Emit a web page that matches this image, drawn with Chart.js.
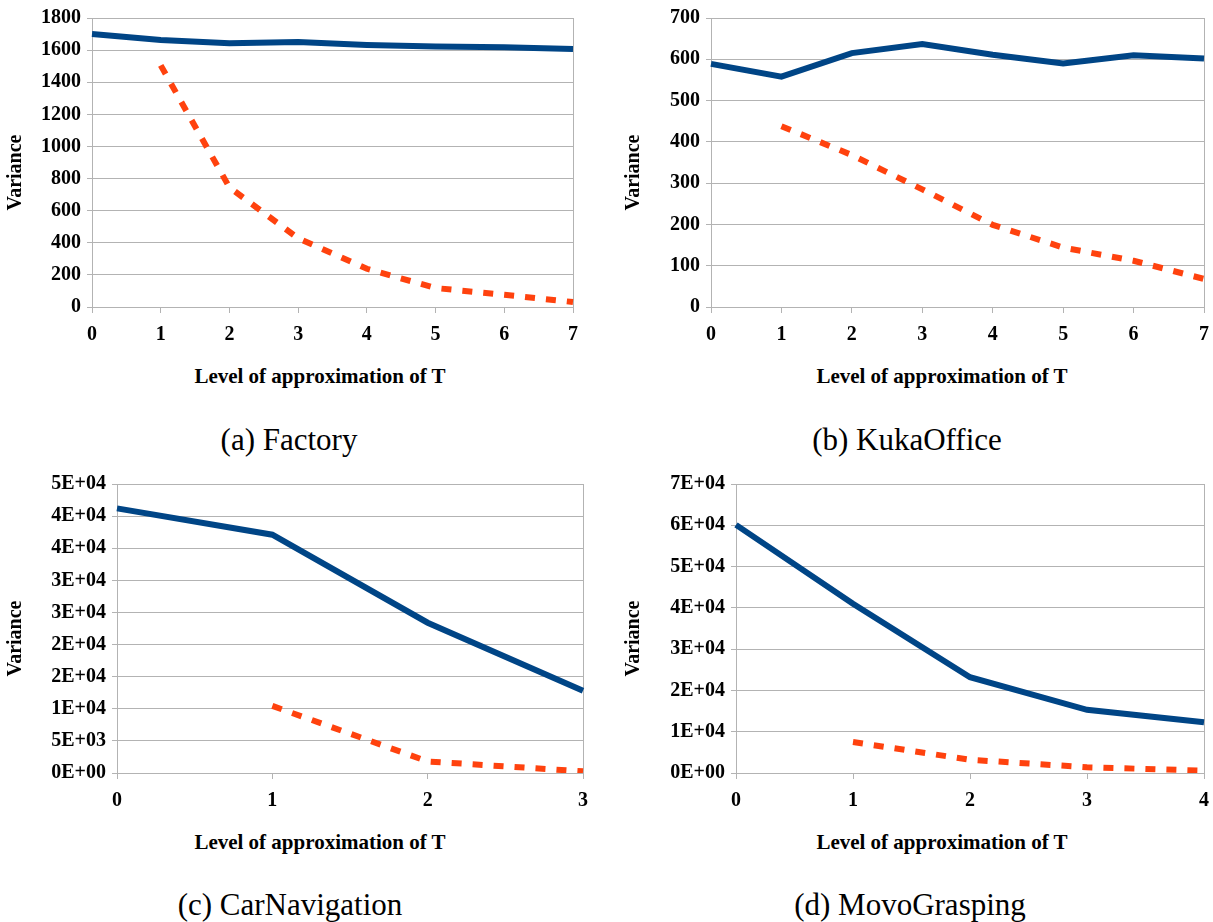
<!DOCTYPE html>
<html>
<head>
<meta charset="utf-8">
<script src="https://cdn.jsdelivr.net/npm/chart.js@4/dist/chart.umd.min.js"></script>
<style>
  body { margin: 0; background: #fff; }
  #page { position: relative; width: 1213px; height: 922px; overflow: hidden; }
  canvas { position: absolute; }
  .lbl {
    position: absolute;
    transform: translate(-50%, -50%);
    white-space: nowrap;
    font-family: 'Liberation Serif', 'Times New Roman', serif;
    color: #000;
  }
  .xtitle { font-weight: bold; font-size: 21px; }
  .caption { font-size: 31px; }
</style>
</head>
<body>
<div id="page">
  <canvas id="chartA" width="618" height="360" style="left:0;top:0"></canvas>
  <canvas id="chartB" width="595" height="360" style="left:618px;top:0"></canvas>
  <canvas id="chartC" width="618" height="360" style="left:0;top:466px"></canvas>
  <canvas id="chartD" width="595" height="360" style="left:618px;top:466px"></canvas>

  <div class="lbl xtitle" style="left:320px;top:376px">Level of approximation of T</div>
  <div class="lbl xtitle" style="left:942px;top:376px">Level of approximation of T</div>
  <div class="lbl xtitle" style="left:320px;top:842px">Level of approximation of T</div>
  <div class="lbl xtitle" style="left:942px;top:842px">Level of approximation of T</div>

  <div class="lbl caption" style="left:289px;top:440px">(a) Factory</div>
  <div class="lbl caption" style="left:907px;top:440px">(b) KukaOffice</div>
  <div class="lbl caption" style="left:290px;top:905px">(c) CarNavigation</div>
  <div class="lbl caption" style="left:910px;top:905px">(d) MovoGrasping</div>
</div>

<script>
// 近似レベル（x 軸）
const levels8 = ['0', '1', '2', '3', '4', '5', '6', '7'];
const levels4 = ['0', '1', '2', '3'];
const levels5 = ['0', '1', '2', '3', '4'];

// (a) Factory
const factorySolid = [1700, 1663, 1642, 1651, 1632, 1622, 1618, 1607];
const factoryDashed = [null, 1505, 745, 428, 238, 118, 76, 31];
const factoryTicks = ['0', '200', '400', '600', '800', '1000', '1200', '1400', '1600', '1800'];

// (b) KukaOffice
const kukaSolid = [589, 558, 615, 637, 611, 590, 610, 602];
const kukaDashed = [null, 438, 368, 285, 199, 144, 112, 68];
const kukaTicks = ['0', '100', '200', '300', '400', '500', '600', '700'];

// (c) CarNavigation
const carSolid = [41200, 37100, 23400, 12800];
const carDashed = [null, 10450, 1800, 260];
const carTicks = ['0E+00', '5E+03', '1E+04', '2E+04', '2E+04', '3E+04', '3E+04', '4E+04', '4E+04', '5E+04'];

// (d) MovoGrasping
const movoSolid = [60100, 41000, 23200, 15300, 12300];
const movoDashed = [null, 7500, 3200, 1400, 560];
const movoTicks = ['0E+00', '1E+04', '2E+04', '3E+04', '4E+04', '5E+04', '6E+04', '7E+04'];

const BLUE = '#004586';
const RED = '#ff420e';
const GRID = '#b3b3b3';
const tickFont = { family: "'Liberation Serif', 'Times New Roman', serif", size: 20, weight: 'bold' };

function makeChart(id, cfg) {
  const n = cfg.labels.length;
  return new Chart(document.getElementById(id), {
    type: 'line',
    data: {
      labels: cfg.labels,
      datasets: [
        {
          data: cfg.solid,
          borderColor: BLUE,
          borderWidth: 6,
          pointRadius: 0,
          tension: 0
        },
        {
          data: cfg.dashed,
          borderColor: RED,
          borderWidth: 6,
          borderDash: [10, 11],
          pointRadius: 0,
          tension: 0
        }
      ]
    },
    options: {
      responsive: false,
      animation: false,
      layout: { padding: { top: 17, right: cfg.right, left: 0, bottom: 0 } },
      plugins: { legend: { display: false }, tooltip: { enabled: false } },
      scales: {
        x: {
          afterFit: s => {
            s.height = 360 - 307;
            // tick padding would otherwise widen the side gaps
            s.paddingLeft = 0;
            s.paddingRight = 0;
          },
          border: { color: GRID, width: 1 },
          grid: {
            color: c => (c.index === n - 1 ? GRID : 'rgba(0,0,0,0)'),
            tickColor: GRID,
            tickLength: 6
          },
          ticks: { color: '#000', font: tickFont, padding: 10, maxRotation: 0, autoSkip: false }
        },
        y: {
          min: 0,
          max: cfg.step * (cfg.ticks.length - 1),
          afterFit: s => { s.width = cfg.left; },
          border: { color: GRID, width: 1 },
          grid: { color: GRID, tickColor: GRID, tickLength: 5 },
          ticks: {
            stepSize: cfg.step,
            color: '#000',
            font: tickFont,
            padding: 6,
            callback: (v, i) => cfg.ticks[i]
          },
          title: {
            display: true,
            // en spaces push the rotated word a little below the axis middle
            text: 'Variance\u2002\u2002',
            color: '#000',
            font: tickFont,
            padding: { top: 4, bottom: 0 }
          }
        }
      }
    }
  });
}

makeChart('chartA', { labels: levels8, solid: factorySolid, dashed: factoryDashed, ticks: factoryTicks, step: 200, left: 92, right: 45 });
makeChart('chartB', { labels: levels8, solid: kukaSolid, dashed: kukaDashed, ticks: kukaTicks, step: 100, left: 93, right: 9 });
makeChart('chartC', { labels: levels4, solid: carSolid, dashed: carDashed, ticks: carTicks, step: 5000, left: 117, right: 35 });
makeChart('chartD', { labels: levels5, solid: movoSolid, dashed: movoDashed, ticks: movoTicks, step: 10000, left: 118, right: 9 });
</script>
</body>
</html>
